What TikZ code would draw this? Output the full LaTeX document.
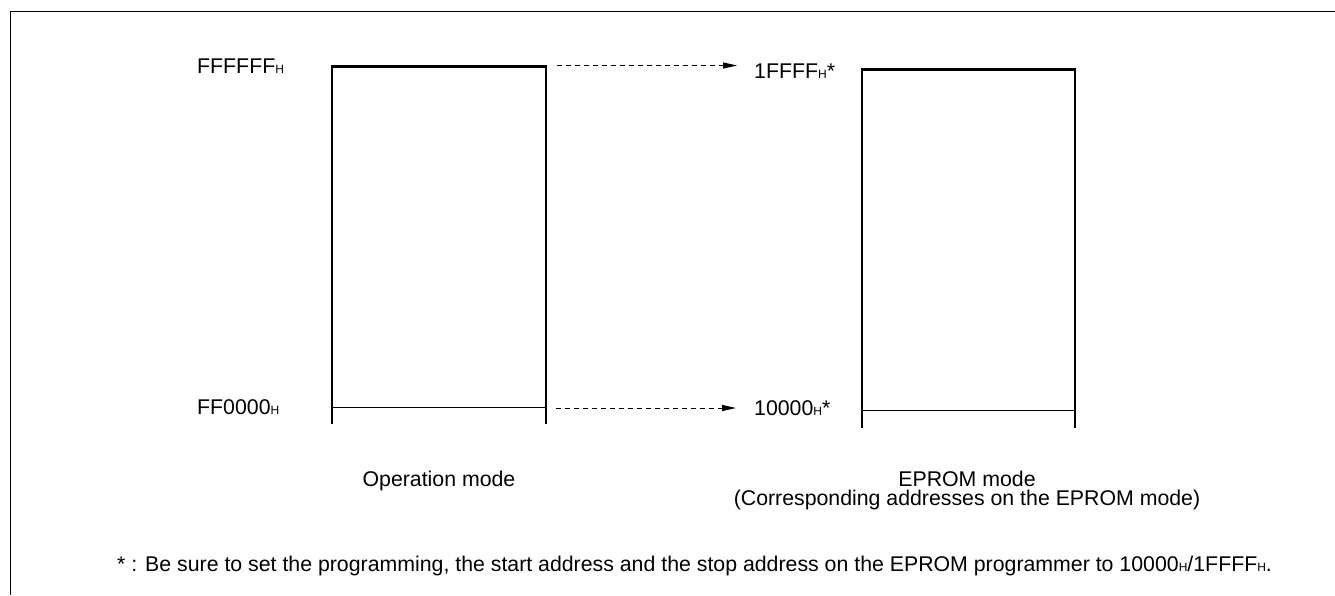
\documentclass[tikz,border=0pt]{standalone}
\usepackage{fontspec}
\setmainfont{Liberation Sans}
\usetikzlibrary{arrows.meta}
\newcommand\hsub{{\fontsize{12}{12}\selectfont H}}
\begin{document}
\begin{tikzpicture}[x=1pt,y=-1pt,
  font=\fontsize{21.3}{24}\selectfont,
  thickln/.style={line width=2.5pt},
  thinln/.style={line width=1pt},
  dasharrow/.style={dash pattern=on 5pt off 4pt, line width=1pt, -{Triangle[length=14pt,width=6pt]}},
  lbl/.style={anchor=base west, inner sep=0pt},
  ctr/.style={anchor=base, inner sep=0pt}]
\useasboundingbox (0,0) rectangle (1335,595);
% frame
\coordinate (fr1) at (1335,11);
\coordinate (fr2) at (10.5,11);
\coordinate (fr3) at (10.5,595);
\draw[line width=1pt] (fr1) -- (fr2) -- (fr3);
% left box
\coordinate (L1) at (332,424);
\coordinate (L2) at (332,66.5);
\coordinate (L3) at (546,66.5);
\coordinate (L4) at (546,424);
\draw[thickln] (L1) -- (L2) -- (L3) -- (L4);
\coordinate (Lb1) at (332,407.5);
\coordinate (Lb2) at (546,407.5);
\draw[thinln] (Lb1) -- (Lb2);
% right box
\coordinate (R1) at (862,428);
\coordinate (R2) at (862,69.5);
\coordinate (R3) at (1075,69.5);
\coordinate (R4) at (1075,428);
\draw[thickln] (R1) -- (R2) -- (R3) -- (R4);
\coordinate (Rb1) at (862,410.5);
\coordinate (Rb2) at (1075,410.5);
\draw[thinln] (Rb1) -- (Rb2);
% arrows
\coordinate (a1s) at (557,65.5);
\coordinate (a1e) at (737,65.5);
\coordinate (a2s) at (556,408);
\coordinate (a2e) at (736,408);
\draw[dasharrow] (a1s) -- (a1e);
\draw[dasharrow] (a2s) -- (a2e);
% labels
\node[lbl] (top) at (197,73) {FFFFFF\hsub};
\node[lbl] (bot) at (197,414) {FF0000\hsub};
\node[lbl] (etop) at (754,78) {1FFFF\hsub*};
\node[lbl] (ebot) at (754,415) {10000\hsub*};
\node[ctr] (op) at (439,486) {Operation mode};
\node[ctr] (ep) at (967,486) {EPROM mode};
\node[ctr] (ep2) at (967,505) {(Corresponding addresses on the EPROM mode)};
\node[lbl] (note) at (117,571) {* : Be sure to set the programming, the start address and the stop address on the EPROM programmer to 10000\hsub/1FFFF\hsub.};
\end{tikzpicture}
\end{document}
